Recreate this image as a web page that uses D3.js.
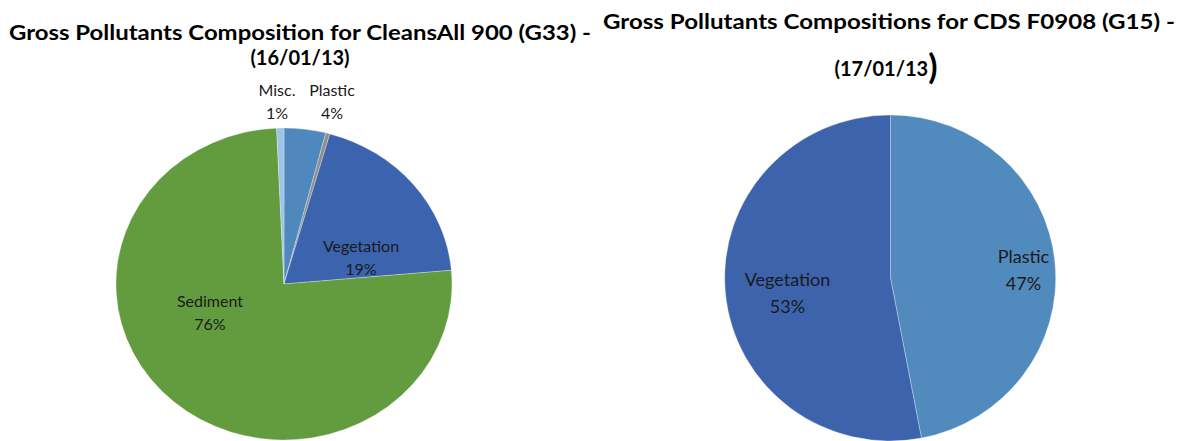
<!DOCTYPE html>
<html>
<head>
<meta charset="utf-8">
<script src="https://cdn.jsdelivr.net/npm/d3@7"></script>
<style>
  body { margin: 0; background: #fff; }
  svg { display: block; }
  .title { font-family: Lato, sans-serif; font-weight: bold; fill: #000; }
  .lbl { font-family: Lato, sans-serif; fill: #1a1a1a; }
</style>
</head>
<body>
<div id="chart"></div>
<script>
// left chart: CleansAll 900 (G33)
const g33Categories = ['Plastic', 'Other', 'Vegetation', 'Sediment', 'Misc.']
const g33Values = [4.0, 0.4, 19.2, 75.7, 0.7]
const g33Labels = ['4%', '', '19%', '76%', '1%']
const g33Colors = ['#4f88bd', '#8f8f8f', '#3c63ad', '#629c3f', '#9dc3e6']

// right chart: CDS F0908 (G15)
const g15Categories = ['Plastic', 'Vegetation']
const g15Values = [47, 53]
const g15Labels = ['47%', '53%']
const g15Colors = ['#518abd', '#3d63ac']

const width = 1190
const height = 441

const svg = d3.select('#chart').append('svg')
  .attr('width', width)
  .attr('height', height)

// label placement (offset from pie centre, px)
const g33LabelPos = {
  'Plastic': [48, -188],
  'Vegetation': [77, -32],
  'Sediment': [-74, 23],
  'Misc.': [-7, -188]
}
const g15LabelPos = {
  'Plastic': [133, -15],
  'Vegetation': [-103, 8]
}

function pieChart (opts) {
  const data = opts.categories.map((c, i) => ({ cat: c, value: opts.values[i], label: opts.labels[i], color: opts.colors[i] }))

  const pie = d3.pie().sort(null).value(d => d.value)
  const arc = d3.arc().innerRadius(0).outerRadius(1)

  const g = svg.append('g')
    .attr('transform', 'translate(' + opts.cx + ',' + opts.cy + ')')

  // ellipse: scale a unit pie
  g.append('g')
    .attr('transform', 'scale(' + opts.rx + ',' + opts.ry + ')')
    .selectAll('path')
    .data(pie(data))
    .enter().append('path')
    .attr('d', arc)
    .attr('fill', d => d.data.color)
    .attr('stroke', '#fff')
    .attr('stroke-opacity', 0.5)
    .attr('stroke-width', 0.6 / opts.rx)

  const lbl = g.selectAll('.lblg')
    .data(data.filter(d => d.label !== ''))
    .enter().append('text')
    .attr('class', 'lbl')
    .style('font-size', opts.labelSize + 'px')
    .attr('text-anchor', 'middle')
    .attr('transform', d => 'translate(' + opts.labelPos[d.cat][0] + ',' + opts.labelPos[d.cat][1] + ')')

  lbl.append('tspan').attr('x', 0).attr('dy', 0).text(d => d.cat)
  lbl.append('tspan').attr('x', 0).attr('dy', opts.lineGap).text(d => d.label)

  opts.title.forEach((t, i) => {
    const tt = svg.append('text')
      .attr('class', 'title')
      .attr('x', t.x || opts.titleX)
      .attr('y', opts.titleY[i])
      .attr('text-anchor', 'middle')
      .style('font-size', '20px')
      .attr('textLength', t.len || null)
      .attr('lengthAdjust', 'spacingAndGlyphs')
      .text(t.text)
    // oversized closing paren (as in the original)
    if (t.bigParen) {
      tt.append('tspan')
        .style('font-size', '34px')
        .attr('dy', 3)
        .text(')')
    }
  })
}

pieChart({
  categories: g33Categories,
  values: g33Values,
  labels: g33Labels,
  colors: g33Colors,
  cx: 284, cy: 284, rx: 168, ry: 156,
  labelPos: g33LabelPos,
  labelSize: 16,
  lineGap: 23,
  titleX: 300,
  titleY: [40, 65],
  title: [{ text: 'Gross Pollutants Composition  for CleansAll 900 (G33) -', len: 582 }, { text: '(16/01/13)' }]
})

pieChart({
  categories: g15Categories,
  values: g15Values,
  labels: g15Labels,
  colors: g15Colors,
  cx: 890.5, cy: 278, rx: 165.5, ry: 163,
  labelPos: g15LabelPos,
  labelSize: 18,
  lineGap: 27,
  titleX: 889,
  titleY: [29, 76],
  title: [{ text: 'Gross Pollutants Compositions  for CDS F0908 (G15) -', len: 572 }, { text: '(17/01/13', bigParen: true, x: 886 }]
})
</script>
</body>
</html>
